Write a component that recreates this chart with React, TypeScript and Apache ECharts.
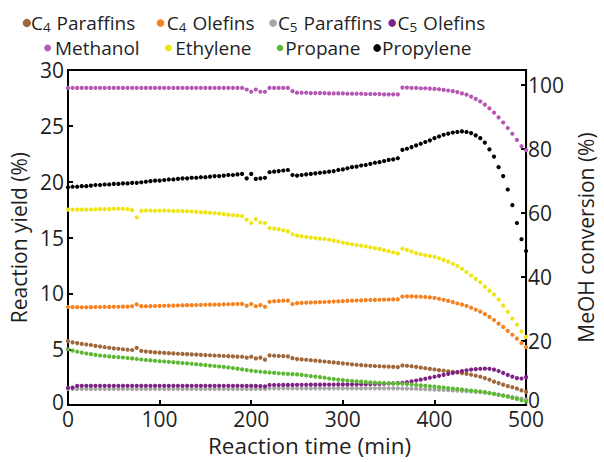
import React, { useEffect, useRef } from 'react';
import * as echarts from 'echarts';

// Reaction time (min)
const times = [
  0, 5, 10, 15, 20, 25, 30, 35, 40, 45, 50, 55, 60, 65, 70, 75, 80, 85, 90, 95,
  100, 105, 110, 115, 120, 125, 130, 135, 140, 145, 150, 155, 160, 165, 170, 175, 180, 185, 190, 195,
  200, 205, 210, 215, 220, 225, 230, 235, 240, 245, 250, 255, 260, 265, 270, 275, 280, 285, 290, 295,
  300, 305, 310, 315, 320, 325, 330, 335, 340, 345, 350, 355, 360, 365, 370, 375, 380, 385, 390, 395,
  400, 405, 410, 415, 420, 425, 430, 435, 440, 445, 450, 455, 460, 465, 470, 475, 480, 485, 490, 495,
  500,
];

const c4Paraffins = [
  5.73, 5.62, 5.55, 5.48, 5.43, 5.38, 5.30, 5.25, 5.18, 5.13,
  5.08, 5.04, 5.00, 4.96, 4.93, 5.12, 4.86, 4.80, 4.76, 4.72,
  4.70, 4.67, 4.65, 4.63, 4.60, 4.58, 4.56, 4.54, 4.52, 4.50,
  4.48, 4.46, 4.44, 4.42, 4.40, 4.38, 4.36, 4.34, 4.33, 4.25,
  4.33, 4.18, 4.25, 4.07, 4.45, 4.42, 4.40, 4.38, 4.36, 4.20,
  4.12, 4.09, 4.06, 4.02, 3.98, 3.94, 3.90, 3.86, 3.82, 3.78,
  3.74, 3.70, 3.65, 3.61, 3.58, 3.55, 3.52, 3.50, 3.48, 3.46,
  3.44, 3.42, 3.40, 3.55, 3.52, 3.48, 3.42, 3.36, 3.30, 3.24,
  3.19, 3.13, 3.08, 3.03, 2.98, 2.92, 2.86, 2.80, 2.72, 2.63,
  2.54, 2.42, 2.27, 2.10, 1.97, 1.83, 1.70, 1.60, 1.47, 1.32,
  1.18,
];

const c4Olefins = [
  8.78, 8.77, 8.77, 8.76, 8.76, 8.77, 8.78, 8.78, 8.79, 8.79,
  8.80, 8.80, 8.81, 8.82, 8.85, 9.02, 8.86, 8.85, 8.86, 8.87,
  8.88, 8.89, 8.90, 8.90, 8.92, 8.93, 8.95, 8.95, 8.96, 8.97,
  8.98, 8.99, 9.00, 9.00, 9.02, 9.03, 9.04, 9.05, 9.06, 8.90,
  9.05, 8.85, 8.95, 8.80, 9.25, 9.30, 9.32, 9.35, 9.35, 9.05,
  9.13, 9.15, 9.17, 9.19, 9.20, 9.22, 9.23, 9.25, 9.27, 9.29,
  9.31, 9.33, 9.35, 9.36, 9.38, 9.40, 9.41, 9.42, 9.43, 9.44,
  9.45, 9.46, 9.47, 9.72, 9.73, 9.73, 9.72, 9.70, 9.68, 9.64,
  9.60, 9.52, 9.43, 9.33, 9.22, 9.10, 9.00, 8.88, 8.72, 8.55,
  8.37, 8.15, 7.90, 7.62, 7.30, 7.00, 6.65, 6.30, 5.95, 5.55,
  5.20,
];

const c5Paraffins = [
  1.45, 1.45, 1.45, 1.45, 1.45, 1.45, 1.45, 1.45, 1.45, 1.45,
  1.45, 1.45, 1.45, 1.45, 1.45, 1.45, 1.45, 1.45, 1.45, 1.45,
  1.45, 1.45, 1.45, 1.45, 1.45, 1.45, 1.45, 1.45, 1.45, 1.45,
  1.45, 1.45, 1.45, 1.45, 1.45, 1.45, 1.45, 1.45, 1.45, 1.45,
  1.45, 1.45, 1.45, 1.45, 1.50, 1.50, 1.50, 1.50, 1.50, 1.50,
  1.50, 1.50, 1.50, 1.50, 1.50, 1.50, 1.50, 1.50, 1.50, 1.50,
  1.50, 1.50, 1.50, 1.50, 1.50, 1.50, 1.50, 1.50, 1.50, 1.50,
  1.50, 1.50, 1.50, 1.49, 1.48, 1.47, 1.46, 1.45, 1.43, 1.41,
  1.39, 1.37, 1.35, 1.33, 1.31, 1.29, 1.27, 1.25, 1.22, 1.19,
  1.16, 1.12, 1.07, 1.01, 0.94, 0.87, 0.80, 0.73, 0.66, 0.58,
  0.50,
];

const c5Olefins = [
  1.55, 1.57, 1.72, 1.73, 1.73, 1.73, 1.73, 1.73, 1.73, 1.73,
  1.73, 1.73, 1.73, 1.73, 1.73, 1.73, 1.73, 1.73, 1.73, 1.73,
  1.73, 1.73, 1.73, 1.73, 1.73, 1.73, 1.73, 1.73, 1.73, 1.73,
  1.73, 1.73, 1.73, 1.73, 1.73, 1.73, 1.73, 1.73, 1.73, 1.72,
  1.73, 1.72, 1.70, 1.68, 1.80, 1.80, 1.80, 1.81, 1.81, 1.81,
  1.82, 1.82, 1.82, 1.83, 1.83, 1.83, 1.84, 1.84, 1.84, 1.85,
  1.85, 1.85, 1.86, 1.86, 1.87, 1.87, 1.88, 1.89, 1.90, 1.91,
  1.93, 1.95, 1.97, 2.00, 2.05, 2.12, 2.20, 2.28, 2.36, 2.45,
  2.54, 2.62, 2.70, 2.80, 2.88, 2.96, 3.05, 3.12, 3.18, 3.22,
  3.25, 3.26, 3.25, 3.18, 3.05, 2.88, 2.70, 2.55, 2.42, 2.38,
  2.50,
];

// Methanol conversion, right axis (%)
const methanol = [
  99.0, 99.0, 99.0, 99.0, 99.0, 99.0, 99.0, 99.0, 99.0, 99.0,
  99.0, 99.0, 99.0, 99.0, 99.0, 99.0, 99.0, 99.0, 99.0, 99.0,
  99.0, 99.0, 99.0, 99.0, 99.0, 99.0, 99.0, 99.0, 99.0, 99.0,
  99.0, 99.0, 99.0, 99.0, 99.0, 99.0, 99.0, 99.0, 99.0, 98.5,
  97.8, 98.5, 97.8, 97.8, 99.0, 99.0, 99.0, 99.0, 99.0, 98.0,
  97.5, 97.5, 97.5, 97.4, 97.4, 97.4, 97.4, 97.3, 97.3, 97.3,
  97.3, 97.2, 97.2, 97.2, 97.2, 97.1, 97.1, 97.1, 97.1, 97.0,
  97.0, 97.0, 97.0, 99.1, 99.1, 99.0, 99.0, 98.9, 98.9, 98.8,
  98.7, 98.6, 98.4, 98.2, 98.0, 97.7, 97.3, 96.9, 96.3, 95.6,
  94.8, 93.8, 92.6, 91.3, 89.8, 88.2, 86.5, 84.7, 82.8, 80.8,
  79.6,
];

const ethylene = [
  17.50, 17.50, 17.50, 17.50, 17.50, 17.51, 17.52, 17.55, 17.55, 17.55,
  17.58, 17.58, 17.58, 17.55, 17.45, 16.80, 17.40, 17.42, 17.42, 17.40,
  17.40, 17.42, 17.40, 17.38, 17.38, 17.36, 17.35, 17.33, 17.30, 17.28,
  17.25, 17.22, 17.18, 17.15, 17.10, 17.05, 17.00, 16.97, 16.92, 16.60,
  16.30, 16.65, 16.35, 16.30, 15.85, 15.80, 15.75, 15.65, 15.55, 15.30,
  15.17, 15.12, 15.05, 15.00, 14.95, 14.90, 14.87, 14.80, 14.73, 14.65,
  14.55, 14.47, 14.40, 14.33, 14.28, 14.20, 14.12, 14.05, 13.98, 13.88,
  13.78, 13.68, 13.58, 14.00, 13.90, 13.75, 13.60, 13.50, 13.42, 13.35,
  13.27, 13.15, 13.00, 12.85, 12.65, 12.45, 12.20, 11.90, 11.60, 11.30,
  11.00, 10.60, 10.25, 9.90, 9.45, 8.90, 8.35, 7.75, 7.20, 6.60,
  6.10,
];

const propane = [
  5.00, 4.88, 4.78, 4.70, 4.62, 4.56, 4.50, 4.44, 4.40, 4.36,
  4.32, 4.29, 4.26, 4.22, 4.18, 4.13, 4.08, 4.04, 4.00, 3.97,
  3.93, 3.90, 3.87, 3.84, 3.80, 3.77, 3.74, 3.70, 3.66, 3.62,
  3.58, 3.54, 3.50, 3.46, 3.42, 3.37, 3.32, 3.26, 3.20, 3.14,
  3.08, 3.03, 2.99, 2.95, 2.92, 2.88, 2.85, 2.82, 2.80, 2.77,
  2.75, 2.70, 2.65, 2.60, 2.55, 2.50, 2.45, 2.38, 2.33, 2.28,
  2.24, 2.20, 2.16, 2.13, 2.10, 2.07, 2.04, 2.02, 2.00, 1.98,
  1.96, 1.94, 1.93, 1.91, 1.88, 1.84, 1.80, 1.77, 1.73, 1.69,
  1.65, 1.61, 1.57, 1.52, 1.48, 1.44, 1.40, 1.35, 1.30, 1.26,
  1.22, 1.16, 1.08, 1.00, 0.92, 0.84, 0.75, 0.65, 0.55, 0.44,
  0.32,
];

const propylene = [
  19.50, 19.55, 19.55, 19.60, 19.60, 19.65, 19.70, 19.70, 19.75, 19.75,
  19.80, 19.80, 19.85, 19.85, 19.90, 19.90, 19.95, 20.00, 20.05, 20.10,
  20.10, 20.15, 20.20, 20.20, 20.25, 20.30, 20.30, 20.35, 20.35, 20.40,
  20.40, 20.45, 20.50, 20.50, 20.55, 20.60, 20.60, 20.65, 20.70, 20.30,
  20.70, 20.25, 20.30, 20.35, 20.85, 20.90, 20.95, 21.00, 21.05, 20.60,
  20.55, 20.60, 20.65, 20.70, 20.75, 20.80, 20.85, 20.90, 20.95, 21.05,
  21.10, 21.20, 21.30, 21.35, 21.45, 21.50, 21.60, 21.70, 21.75, 21.85,
  21.95, 22.00, 22.10, 22.85, 22.95, 23.10, 23.25, 23.40, 23.55, 23.70,
  23.90, 24.05, 24.20, 24.30, 24.40, 24.45, 24.50, 24.45, 24.35, 24.15,
  23.90, 23.50, 22.90, 22.25, 21.30, 20.50, 19.30, 17.90, 16.30, 14.85,
  13.80,
];

const seriesNames = [
  'C4 Paraffins', 'C4 Olefins', 'C5 Paraffins', 'C5 Olefins',
  'Methanol', 'Ethylene', 'Propane', 'Propylene',
];
const seriesValues = [
  c4Paraffins, c4Olefins, c5Paraffins, c5Olefins,
  methanol, ethylene, propane, propylene,
];
const seriesAxis = [0, 0, 0, 0, 1, 0, 0, 0];
const seriesColors = [
  '#A0673A', '#F5821F', '#A6A6A6', '#7E2385',
  '#B657B3', '#EEE614', '#5DB833', '#000000',
];

// legend layout (icon left, icon centre y, icon size, text shift)
const legendLayout = [
  { left: 22.7, cy: 22, size: 8.3, shift: -5 },
  { left: 156.7, cy: 22, size: 7.6, shift: -2.5 },
  { left: 269.3, cy: 22, size: 7.6, shift: -4 },
  { left: 388.3, cy: 22, size: 7.7, shift: -3.5 },
  { left: 44.3, cy: 48.5, size: 6.7, shift: -1 },
  { left: 165, cy: 48.5, size: 6.7, shift: -1.5 },
  { left: 276.7, cy: 48.5, size: 6.6, shift: -3 },
  { left: 373.3, cy: 48.5, size: 7.7, shift: -4 },
];

const FONT = '"Open Sans", "Noto Sans", sans-serif';
const TEXT = '#1f1f1f';

export default function App() {
  const ref = useRef<HTMLDivElement>(null);

  useEffect(() => {
    const chart = echarts.init(ref.current as HTMLDivElement, null, { renderer: 'svg' });

    const legends = seriesNames.map((name, i) => {
      const l = legendLayout[i];
      return {
        data: [name],
        left: l.left,
        top: l.cy - 10,
        padding: 0,
        itemWidth: l.size,
        itemHeight: l.size,
        icon: 'circle',
        selectedMode: false,
        formatter: (n: string) => {
          const m = n.match(/^C(\d)(.*)$/);
          if (m) return `{n|C}{s|${m[1]}}{n|${m[2]}}`;
          return `{n|${n}}`;
        },
        textStyle: {
          fontFamily: FONT,
          fontSize: 19,
          color: TEXT,
          padding: [0, 0, 0, l.shift],
          rich: {
            n: { fontFamily: FONT, fontSize: 19, color: TEXT, lineHeight: 20, verticalAlign: 'middle' },
            s: { fontFamily: FONT, fontSize: 13.5, color: TEXT, lineHeight: 12, padding: [8, 1, 0, 0], verticalAlign: 'middle' },
          },
        },
      };
    });

    const axisLine = { show: true, lineStyle: { color: '#000', width: 2 } };
    const axisTick = { show: true, inside: true, length: 5, lineStyle: { color: '#000', width: 2 } };

    const zeroLabel = (lift: number) => ({
      formatter: (v: number) => (v === 0 ? '{z|0}' : String(v)),
      rich: { z: { fontFamily: FONT, fontSize: 21, color: TEXT, padding: [0, 0, lift, 0] } },
    });

    const option: any = {
      animation: false,
      backgroundColor: '#fff',
      textStyle: { fontFamily: FONT },
      legend: legends,
      grid: {
        left: 68,
        right: 51,
        top: 70,
        bottom: 48,
        show: true,
        borderColor: '#000',
        borderWidth: 2,
        backgroundColor: 'transparent',
      },
      xAxis: {
        type: 'value',
        min: 0,
        max: 500,
        interval: 100,
        axisLine,
        axisTick,
        splitLine: { show: false },
        axisLabel: { fontFamily: FONT, fontSize: 21, color: TEXT, margin: 3 },
        name: '{t|Reaction time (min)}',
        nameLocation: 'middle',
        nameGap: 26,
        nameTextStyle: {
          fontFamily: FONT,
          fontSize: 22.5,
          color: TEXT,
          rich: { t: { fontFamily: FONT, fontSize: 22.5, color: TEXT, padding: [0, 0, 0, 25] } },
        },
      },
      yAxis: [
        {
          type: 'value',
          position: 'left',
          min: 0,
          max: 30,
          interval: 5,
          axisLine,
          axisTick,
          splitLine: { show: false },
          axisLabel: { fontFamily: FONT, fontSize: 21, color: TEXT, margin: 4, ...zeroLabel(7) },
          name: 'Reaction yield (%)',
          nameLocation: 'middle',
          nameRotate: 90,
          nameGap: 38,
          nameTextStyle: { fontFamily: FONT, fontSize: 21, color: TEXT },
        },
        {
          type: 'value',
          position: 'right',
          min: 0,
          max: 104.6,
          interval: 20,
          axisLine,
          axisTick,
          splitLine: { show: false },
          axisLabel: { fontFamily: FONT, fontSize: 21, color: TEXT, margin: 2, showMaxLabel: false, ...zeroLabel(10) },
          name: 'MeOH conversion (%)',
          nameLocation: 'middle',
          nameRotate: 90,
          nameGap: 32,
          nameTextStyle: { fontFamily: FONT, fontSize: 21, color: TEXT },
        },
      ],
      series: seriesNames.map((name, i) => ({
        name,
        type: 'scatter',
        yAxisIndex: seriesAxis[i],
        symbol: 'circle',
        symbolSize: 4.2,
        silent: true,
        itemStyle: { color: seriesColors[i], opacity: 1 },
        data: times.map((t, k) => [t, seriesValues[i][k]]),
      })),
    };

    chart.setOption(option);
    return () => chart.dispose();
  }, []);

  return (
    <div
      ref={ref}
      style={{ position: 'fixed', left: 0, top: 0, width: 604, height: 462, background: '#fff' }}
    />
  );
}
